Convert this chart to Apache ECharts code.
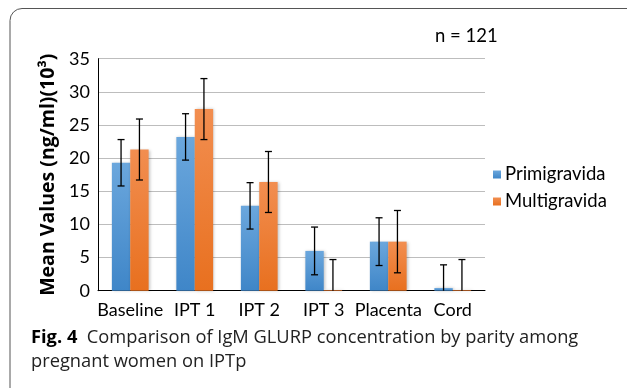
<!DOCTYPE html>
<html><head><meta charset="utf-8">
<style>html,body{margin:0;padding:0;background:#fff}#c{width:627px;height:388px}</style>
<script src="https://cdn.jsdelivr.net/npm/echarts@6/dist/echarts.min.js"></script>
</head><body><div id="c"></div>
<script>
const categories = ['Baseline', 'IPT 1', 'IPT 2', 'IPT 3', 'Placenta', 'Cord'];
const primigravida = [19.3, 23.2, 12.8, 6.0, 7.4, 0.4];
const multigravida = [21.3, 27.4, 16.4, 0.1, 7.4, 0.1];
const primiError = [3.5, 3.5, 3.5, 3.6, 3.6, 3.5];
const multiError = [4.6, 4.6, 4.6, 4.6, 4.7, 4.6];
const yTicks = [0, 5, 10, 15, 20, 25, 30, 35];

const FONT = 'Lato';
const chart = echarts.init(document.getElementById('c'));
const catGap = 0.43;

function errSeries(name, vals, errs, idx) {
  return {
    type: 'custom', name: name + ' err', silent: true, z: 5,
    data: vals.map((v, i) => [i, v, errs[i]]),
    renderItem: function (params, api) {
      const i = api.value(0), v = api.value(1), e = api.value(2);
      const band = api.size([1, 0])[0];
      const bw = band * (1 - catGap) / 2;
      const c = api.coord([i, 0]);
      const x = c[0] + (idx === 0 ? -bw / 2 : bw / 2);
      const lo = Math.max(0, v - e), hi = v + e;
      const pLo = api.coord([i, lo])[1], pHi = api.coord([i, hi])[1];
      const style = { stroke: '#000', lineWidth: 1.3 };
      const kids = [
        { type: 'line', shape: { x1: x, y1: pLo, x2: x, y2: pHi }, style },
        { type: 'line', shape: { x1: x - 3.5, y1: pHi, x2: x + 3.5, y2: pHi }, style }
      ];
      if (v - e > 0) kids.push({ type: 'line', shape: { x1: x - 3.5, y1: pLo, x2: x + 3.5, y2: pLo }, style });
      return { type: 'group', children: kids };
    }
  };
}

const blueGrad = new echarts.graphic.LinearGradient(0, 0, 0, 1, [
  { offset: 0, color: '#6BA7DD' }, { offset: 1, color: '#3F86C8' }]);
const orangeGrad = new echarts.graphic.LinearGradient(0, 0, 0, 1, [
  { offset: 0, color: '#F28E50' }, { offset: 1, color: '#E8701F' }]);

chart.setOption({
  animation: false,
  grid: { left: 98, right: 142, top: 58.7, bottom: 97.3 },
  legend: {
    orient: 'vertical', left: 488, top: 160, itemWidth: 8, itemHeight: 8, itemGap: 8,
    icon: 'rect',
    data: ['Primigravida', 'Multigravida'],
    textStyle: { fontFamily: FONT, fontSize: 18.5, color: '#000', padding: [0, 0, 0, -1] }
  },
  xAxis: {
    type: 'category', data: categories,
    axisLine: { lineStyle: { color: '#000', width: 1 } },
    axisTick: { show: false },
    axisLabel: { fontFamily: FONT, fontSize: 18, color: '#000', margin: 10, interval: 0 }
  },
  yAxis: {
    type: 'value', min: yTicks[0], max: yTicks[yTicks.length - 1], interval: 5,
    name: 'Mean Values (ng/ml)(10³)', nameLocation: 'middle', nameGap: 40,
    nameTextStyle: { fontFamily: 'Open Sans', fontSize: 19.5, fontWeight: 'bold', color: '#000' },
    axisLine: { show: true, lineStyle: { color: '#000', width: 1 } },
    axisTick: { show: false },
    axisLabel: { fontFamily: FONT, fontSize: 18, color: '#000', margin: 8 },
    splitLine: { lineStyle: { color: '#BDBDBD', width: 1 } }
  },
  series: [
    { name: 'Primigravida', type: 'bar', data: primigravida, barGap: '0%', barCategoryGap: (catGap * 100) + '%',
      itemStyle: { color: blueGrad, shadowColor: 'rgba(0,0,0,0.25)', shadowBlur: 3, shadowOffsetX: 1 } },
    { name: 'Multigravida', type: 'bar', data: multigravida, barGap: '0%', barCategoryGap: (catGap * 100) + '%',
      itemStyle: { color: orangeGrad, shadowColor: 'rgba(0,0,0,0.25)', shadowBlur: 3, shadowOffsetX: 1 } },
    errSeries('Primigravida', primigravida, primiError, 0),
    errSeries('Multigravida', multigravida, multiError, 1)
  ],
  graphic: [
    { type: 'rect', shape: { x: 10, y: 8.5, width: 640, height: 395, r: 12 },
      style: { fill: 'none', stroke: '#555', lineWidth: 1 }, silent: true },
    { type: 'text', left: 435, top: 27, style: { text: 'n = 121', font: '18.5px Lato', fill: '#000' } },
    { type: 'text', left: 31, top: 326, style: {
      text: '{b|Fig. 4}  Comparison of IgM GLURP concentration by parity among\npregnant women on IPTp',
      font: '18.3px "Open Sans"', fill: '#222', lineHeight: 24,
      rich: { b: { fontFamily: 'Open Sans', fontWeight: 'bold', fontSize: 18.3, fill: '#000' } } } }
  ]
});
</script></body></html>
